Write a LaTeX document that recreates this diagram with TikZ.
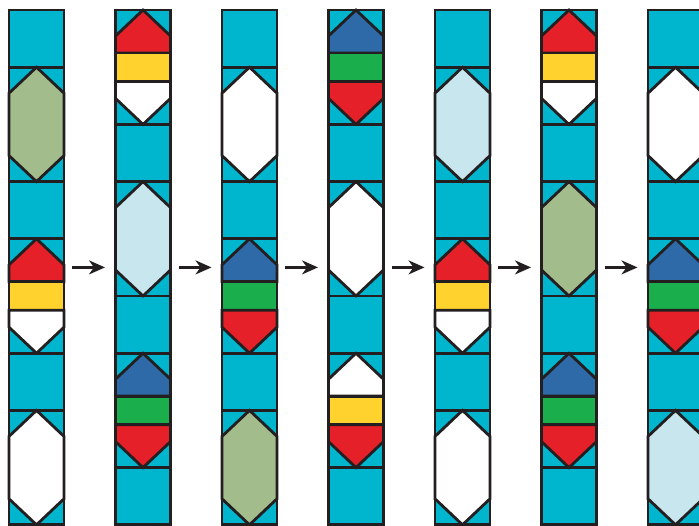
\documentclass[tikz,border=0pt]{standalone}
\usetikzlibrary{arrows.meta}
\definecolor{cy}{RGB}{0,181,206}
\definecolor{sage}{RGB}{163,188,140}
\definecolor{pale}{RGB}{200,230,238}
\definecolor{rd}{RGB}{229,32,41}
\definecolor{yl}{RGB}{255,210,46}
\definecolor{bl}{RGB}{46,106,168}
\definecolor{gn}{RGB}{27,174,77}
\definecolor{ink}{RGB}{35,31,32}
\tikzset{
  ln/.style={draw=ink,line width=2.8pt,line join=miter},
  colframe/.style={ln,fill=cy,minimum width=55pt,minimum height=514.8pt,inner sep=0pt,outer sep=0pt,anchor=north west},
  arr/.style={-{Stealth[length=16pt,width=14pt,inset=5pt]},line width=2.3pt,draw=ink}
}
\def\U{57.2}
\def\D{26}
\newcommand\divl[2]{\draw[ln] ({#1},{10+#2*\U}) -- ({#1+55},{10+#2*\U});}
\newcommand\hexb[3]{% x, unit index, colour
  \filldraw[ln,fill=#3] ({#1+27.5},{10+#2*\U}) -- ({#1+55},{10+#2*\U+\D}) -- ({#1+55},{10+(#2+2)*\U-\D}) -- ({#1+27.5},{10+(#2+2)*\U}) -- ({#1},{10+(#2+2)*\U-\D}) -- ({#1},{10+#2*\U+\D}) -- cycle;}
\newcommand\arrb[5]{% x, unit index, top, middle, bottom
  \filldraw[ln,fill=#3] ({#1+27.5},{10+#2*\U}) -- ({#1+55},{10+#2*\U+\D}) -- ({#1+55},{10+(#2+0.75)*\U}) -- ({#1},{10+(#2+0.75)*\U}) -- ({#1},{10+#2*\U+\D}) -- cycle;
  \filldraw[ln,fill=#4] ({#1},{10+(#2+0.75)*\U}) rectangle ({#1+55},{10+(#2+1.25)*\U});
  \filldraw[ln,fill=#5] ({#1},{10+(#2+1.25)*\U}) -- ({#1+55},{10+(#2+1.25)*\U}) -- ({#1+55},{10+(#2+2)*\U-\D}) -- ({#1+27.5},{10+(#2+2)*\U}) -- ({#1},{10+(#2+2)*\U-\D}) -- cycle;}
% column starting with a square: S H S A S H
\newcommand\colA[7]{% name, x, hex1, top, mid, bottom, hex2
  \node[colframe] (#1) at (#2,10) {};
  \hexb{#2}{1}{#3}
  \arrb{#2}{4}{#4}{#5}{#6}
  \hexb{#2}{7}{#7}
  \divl{#2}{1}\divl{#2}{3}\divl{#2}{4}\divl{#2}{6}\divl{#2}{7}
  \draw[ln] (#1.north west) rectangle (#1.south east);}
% column starting with an arrow block: A S H S A S
\newcommand\colB[9]{% name, x, top1, mid1, bottom1, hex, top2, mid2, bottom2
  \node[colframe] (#1) at (#2,10) {};
  \arrb{#2}{0}{#3}{#4}{#5}
  \hexb{#2}{3}{#6}
  \arrb{#2}{6}{#7}{#8}{#9}
  \divl{#2}{2}\divl{#2}{3}\divl{#2}{5}\divl{#2}{6}\divl{#2}{8}
  \draw[ln] (#1.north west) rectangle (#1.south east);}
\begin{document}
\begin{tikzpicture}[x=1pt,y=-1pt]
\useasboundingbox (0,0) rectangle (699,525);
\clip (0,0) rectangle (699,525);
\colA{c1}{9}{sage}{rd}{yl}{white}{white}
\colB{c2}{115.5}{rd}{yl}{white}{pale}{bl}{gn}{rd}
\colA{c3}{222}{white}{bl}{gn}{rd}{sage}
\colB{c4}{328.5}{bl}{gn}{rd}{white}{white}{yl}{rd}
\colA{c5}{435}{pale}{rd}{yl}{white}{white}
\colB{c6}{541.5}{rd}{yl}{white}{sage}{bl}{gn}{rd}
\colA{c7}{648}{white}{bl}{gn}{rd}{pale}
\draw[arr] ([xshift=8pt]c1.east) -- ([xshift=-10.5pt]c2.west);
\draw[arr] ([xshift=8pt]c2.east) -- ([xshift=-10.5pt]c3.west);
\draw[arr] ([xshift=8pt]c3.east) -- ([xshift=-10.5pt]c4.west);
\draw[arr] ([xshift=8pt]c4.east) -- ([xshift=-10.5pt]c5.west);
\draw[arr] ([xshift=8pt]c5.east) -- ([xshift=-10.5pt]c6.west);
\draw[arr] ([xshift=8pt]c6.east) -- ([xshift=-10.5pt]c7.west);
\end{tikzpicture}
\end{document}
